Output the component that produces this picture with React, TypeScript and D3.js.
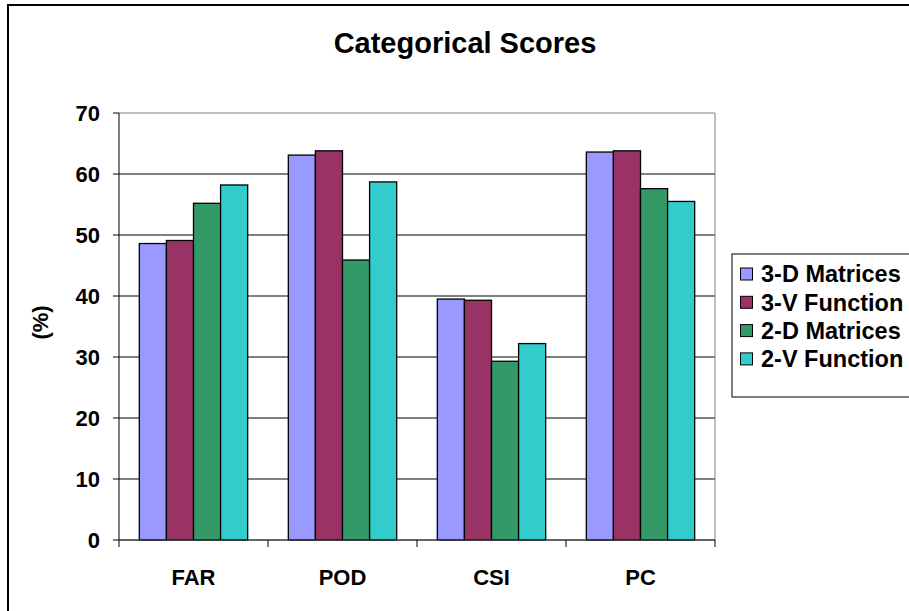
import React from "react";
import * as d3 from "d3";

const categories = ["FAR", "POD", "CSI", "PC"];
const seriesNames = ["3-D Matrices", "3-V Function", "2-D Matrices", "2-V Function"];
const seriesColors = ["#9999FF", "#993366", "#339966", "#33CCCC"];
const s3DMatrices = [48.6, 63.1, 39.5, 63.6];
const s3VFunction = [49.1, 63.8, 39.3, 63.8];
const s2DMatrices = [55.2, 45.9, 29.3, 57.6];
const s2VFunction = [58.2, 58.7, 32.2, 55.5];
const yTicks = [0, 10, 20, 30, 40, 50, 60, 70];
const titleText = "Categorical Scores";
const yAxisTitle = "(%)";

const seriesValues = [s3DMatrices, s3VFunction, s2DMatrices, s2VFunction];

const W = 909;
const H = 611;
const plot = { left: 119, right: 715, top: 113, bottom: 540 };
const FONT = "'Liberation Sans', Arial, sans-serif";

export default function App() {
  const x0 = d3.scaleBand<string>().domain(categories).range([plot.left, plot.right]).paddingInner(0).paddingOuter(0);
  const x1 = d3.scaleBand<string>().domain(seriesNames).range([0, x0.bandwidth()]).paddingInner(0).paddingOuter(0.75);
  const y = d3.scaleLinear().domain([0, 70]).range([plot.bottom, plot.top]);

  const boundaries = categories.map((c) => x0(c) as number).concat([plot.right]);

  return (
    <div style={{ position: "absolute", left: 0, top: 0 }}>
      <svg width={W} height={H} style={{ display: "block", background: "#fff" }} fontFamily={FONT}>
        <rect x={0} y={0} width={W} height={H} fill="#fff" />
        {/* outer chart frame */}
        <rect x={8} y={5} width={930} height={640} fill="none" stroke="#000" strokeWidth={2} />
        {/* title */}
        <text x={465} y={53} textAnchor="middle" fontSize={29} fontWeight="bold" fill="#000">
          {titleText}
        </text>
        {/* gridlines */}
        {yTicks.filter((t) => t > 0 && t < 70).map((t) => (
          <line key={"g" + t} x1={plot.left} x2={plot.right} y1={y(t)} y2={y(t)} stroke="#000" strokeWidth={1} />
        ))}
        {/* plot border (top/right) */}
        <line x1={plot.left} x2={plot.right} y1={y(70)} y2={y(70)} stroke="#808080" strokeWidth={1} />
        <line x1={plot.right} x2={plot.right} y1={plot.top} y2={plot.bottom} stroke="#808080" strokeWidth={1} />
        {/* bars */}
        {categories.map((c, ci) => (
          <g key={c} transform={`translate(${x0(c)},0)`}>
            {seriesNames.map((s, si) => {
              const v = seriesValues[si][ci];
              return (
                <rect
                  key={s}
                  x={x1(s)}
                  y={y(v)}
                  width={x1.bandwidth()}
                  height={y(0) - y(v)}
                  fill={seriesColors[si]}
                  stroke="#000"
                  strokeWidth={1.3}
                />
              );
            })}
          </g>
        ))}
        {/* y axis */}
        <line x1={plot.left} x2={plot.left} y1={plot.top} y2={plot.bottom} stroke="#000" strokeWidth={1} />
        {yTicks.map((t) => (
          <g key={"yt" + t}>
            <line x1={plot.left - 6} x2={plot.left} y1={y(t)} y2={y(t)} stroke="#000" strokeWidth={1} />
            <text x={100} y={y(t)} dy="0.36em" textAnchor="end" fontSize={22} fontWeight="bold" fill="#000">
              {t}
            </text>
          </g>
        ))}
        <text
          transform={`translate(48,${(plot.top + plot.bottom) / 2 - 4}) rotate(-90)`}
          textAnchor="middle"
          fontSize={22}
          fontWeight="bold"
          fill="#000"
        >
          {yAxisTitle}
        </text>
        {/* x axis */}
        <line x1={plot.left} x2={plot.right} y1={plot.bottom} y2={plot.bottom} stroke="#333" strokeWidth={1.5} />
        {boundaries.map((b, i) => (
          <line key={"xt" + i} x1={b} x2={b} y1={plot.bottom} y2={plot.bottom + 7} stroke="#000" strokeWidth={1} />
        ))}
        {categories.map((c) => (
          <text
            key={"xl" + c}
            x={(x0(c) as number) + x0.bandwidth() / 2}
            y={585}
            textAnchor="middle"
            fontSize={22}
            fontWeight="bold"
            fill="#000"
          >
            {c}
          </text>
        ))}
        {/* legend */}
        <rect x={732} y={254} width={200} height={143} fill="#fff" stroke="#000" strokeWidth={1} />
        {seriesNames.map((s, i) => {
          const cy = 274 + i * 28.3;
          return (
            <g key={"lg" + s}>
              <rect x={740.5} y={cy - 6} width={12} height={12} fill={seriesColors[i]} stroke="#000" strokeWidth={1} />
              <text x={761} y={cy} dy="0.36em" fontSize={23.5} fontWeight="bold" fill="#000">
                {s}
              </text>
            </g>
          );
        })}
      </svg>
    </div>
  );
}
